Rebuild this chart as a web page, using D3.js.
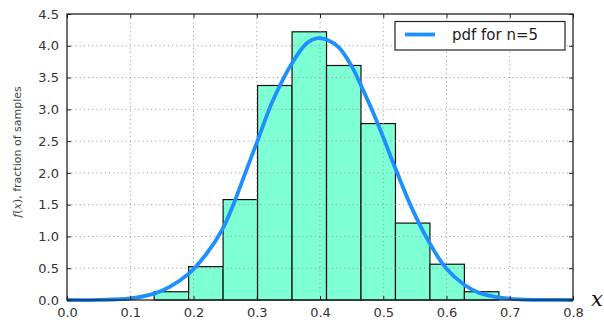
<!DOCTYPE html>
<html>
<head>
<meta charset="utf-8">
<script src="https://cdn.jsdelivr.net/npm/d3@7"></script>
<style>
  html, body { margin: 0; padding: 0; background: #fff; }
  svg { display: block; }
  text { font-family: "DejaVu Sans", sans-serif; }
</style>
</head>
<body>
<svg id="chart" width="604" height="327"></svg>
<script>
// Histogram bins: edges and bar heights (density)
const binEdges = [0.1378, 0.1923, 0.2468, 0.3013, 0.3558, 0.4103, 0.4648, 0.5193, 0.5738, 0.6283, 0.6828];
const binHeights = [0.13, 0.525, 1.58, 3.375, 4.22, 3.69, 2.776, 1.21, 0.563, 0.13];

// Probability density curve, sampled points
const pdfX = [0.0, 0.05, 0.10, 0.139, 0.163, 0.192, 0.22, 0.245, 0.263, 0.28, 0.301, 0.326, 0.356, 0.379, 0.396, 0.412, 0.43, 0.45, 0.466, 0.484, 0.50, 0.518, 0.545, 0.573, 0.60, 0.628, 0.653, 0.685, 0.716, 0.75, 0.8];
const pdfY = [0.0, 0.002, 0.025, 0.105, 0.21, 0.41, 0.72, 1.1, 1.5, 1.95, 2.5, 3.15, 3.73, 4.04, 4.12, 4.09, 3.97, 3.68, 3.35, 2.95, 2.56, 2.1, 1.45, 0.9, 0.49, 0.24, 0.105, 0.037, 0.01, 0.002, 0.0];

// Axis ticks
const xTicks = [0.0, 0.1, 0.2, 0.3, 0.4, 0.5, 0.6, 0.7, 0.8];
const yTicks = [0.0, 0.5, 1.0, 1.5, 2.0, 2.5, 3.0, 3.5, 4.0, 4.5];
const legendLabel = "pdf for n=5";

const svg = d3.select("#chart");
const plot = { left: 67, right: 573, top: 14, bottom: 300 };

const x = d3.scaleLinear().domain([0, 0.8]).range([plot.left, plot.right]);
const y = d3.scaleLinear().domain([0, 4.5]).range([plot.bottom, plot.top]);

// Bars
const bars = binHeights.map((h, i) => ({ x0: binEdges[i], x1: binEdges[i + 1], h }));
svg.append("g").selectAll("rect").data(bars).join("rect")
  .attr("x", d => x(d.x0))
  .attr("y", d => y(d.h))
  .attr("width", d => x(d.x1) - x(d.x0))
  .attr("height", d => y(0) - y(d.h))
  .attr("fill", "#7fffd4")
  .attr("stroke", "#111")
  .attr("stroke-width", 1.2);

// Dotted grid
const grid = svg.append("g").attr("stroke", "#9a9a9a").attr("stroke-width", 0.9).attr("stroke-dasharray", "1.2,3");
grid.selectAll("line.gx").data(xTicks.slice(1, -1)).join("line")
  .attr("x1", d => x(d)).attr("x2", d => x(d))
  .attr("y1", plot.top).attr("y2", plot.bottom);
grid.selectAll("line.gy").data(yTicks.slice(1, -1)).join("line")
  .attr("y1", d => y(d)).attr("y2", d => y(d))
  .attr("x1", plot.left).attr("x2", plot.right);

// Density curve
const pts = pdfX.map((v, i) => [v, pdfY[i]]);
const line = d3.line().x(d => x(d[0])).y(d => y(d[1])).curve(d3.curveCatmullRom.alpha(0.5));
svg.append("path").datum(pts)
  .attr("d", line)
  .attr("fill", "none")
  .attr("stroke", "#1e8fff")
  .attr("stroke-width", 3.8)
  .attr("stroke-linejoin", "round");

// Axes: labels outside, inward ticks on all four sides
const tickLen = 4;
const xAxisB = d3.axisBottom(x).tickValues(xTicks).tickFormat(d3.format(".1f")).tickSizeInner(-tickLen).tickSizeOuter(0).tickPadding(8);
const xAxisT = d3.axisTop(x).tickValues(xTicks).tickFormat("").tickSizeInner(-tickLen).tickSizeOuter(0);
const yAxisL = d3.axisLeft(y).tickValues(yTicks).tickFormat(d3.format(".1f")).tickSizeInner(-tickLen).tickSizeOuter(0).tickPadding(8);
const yAxisR = d3.axisRight(y).tickValues(yTicks).tickFormat("").tickSizeInner(-tickLen).tickSizeOuter(0);

function styleAxis(g) {
  g.select(".domain").remove();
  g.selectAll(".tick line").attr("stroke", "#222").attr("stroke-width", 1);
  g.selectAll(".tick text").attr("fill", "#333").style("font-size", "13px").style("font-family", "DejaVu Sans, sans-serif");
}
svg.append("g").attr("transform", `translate(0,${plot.bottom})`).call(xAxisB).call(styleAxis);
svg.append("g").attr("transform", `translate(0,${plot.top})`).call(xAxisT).call(styleAxis);
svg.append("g").attr("transform", `translate(${plot.left},0)`).call(yAxisL).call(styleAxis);
svg.append("g").attr("transform", `translate(${plot.right},0)`).call(yAxisR).call(styleAxis);

// Frame
svg.append("rect")
  .attr("x", plot.left).attr("y", plot.top)
  .attr("width", plot.right - plot.left).attr("height", plot.bottom - plot.top)
  .attr("fill", "none").attr("stroke", "#222").attr("stroke-width", 1.3);

// Y label
const yl = svg.append("text")
  .attr("transform", `translate(21,152) rotate(-90)`)
  .attr("text-anchor", "middle")
  .attr("fill", "#444")
  .style("font-size", "11px");
yl.append("tspan").style("font-family", "DejaVu Serif, serif").style("font-style", "italic").text("f");
yl.append("tspan").style("font-family", "DejaVu Serif, serif").text("(");
yl.append("tspan").style("font-family", "DejaVu Serif, serif").style("font-style", "italic").text("x");
yl.append("tspan").style("font-family", "DejaVu Serif, serif").text(")");
yl.append("tspan").text(", fraction of samples");

// X label
svg.append("text")
  .attr("x", 597).attr("y", 306)
  .attr("text-anchor", "middle")
  .attr("fill", "#111")
  .style("font-family", "DejaVu Serif, serif")
  .style("font-style", "italic")
  .style("font-size", "21px")
  .text("x");

// Legend
const lg = svg.append("g");
lg.append("rect")
  .attr("x", 395).attr("y", 21.5).attr("width", 170).attr("height", 28.5)
  .attr("fill", "#fff").attr("stroke", "#222").attr("stroke-width", 1.2);
lg.append("line")
  .attr("x1", 405).attr("x2", 435).attr("y1", 34.5).attr("y2", 34.5)
  .attr("stroke", "#1e8fff").attr("stroke-width", 3.8);
lg.append("text")
  .attr("x", 452).attr("y", 40)
  .attr("fill", "#222")
  .style("font-size", "15px")
  .text(legendLabel);
</script>
</body>
</html>
